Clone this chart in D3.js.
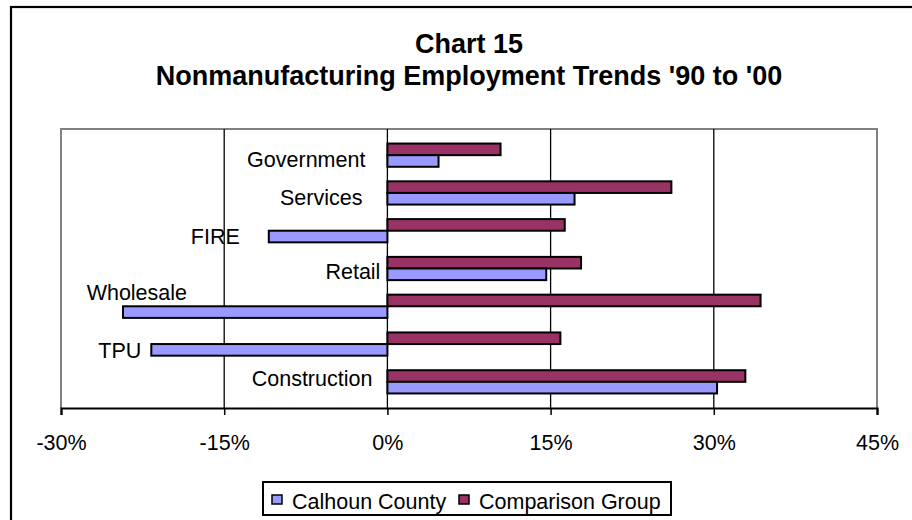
<!DOCTYPE html>
<html>
<head>
<meta charset="utf-8">
<script src="https://cdnjs.cloudflare.com/ajax/libs/d3/7.8.5/d3.min.js"></script>
<style>
  html, body { margin: 0; padding: 0; background: #fff; }
  svg { display: block; font-family: "Liberation Sans", Arial, sans-serif; }
</style>
</head>
<body>
<svg id="chart" width="912" height="520"></svg>
<script>
// Données (ordre Excel : de bas en haut)
const categories = ['Construction', 'TPU', 'Wholesale', 'Retail', 'FIRE', 'Services', 'Government'];
const calhoun = [30.3, -21.7, -24.3, 14.6, -10.9, 17.2, 4.7];
const comparison = [32.9, 15.9, 34.3, 17.8, 16.3, 26.1, 10.4];
const xTicks = [-30, -15, 0, 15, 30, 45];
const seriesNames = ['Calhoun County', 'Comparison Group'];

// Décalages des libellés (placement Excel)
const labelNudge = {
  Construction: [-5, -3], TPU: [0, 6], Wholesale: [74, -14], Retail: [3, 3],
  FIRE: [-19, 6], Services: [-15, 5], Government: [-12, 4]
};

const colors = { calhoun: '#9999ff', comparison: '#993366' };
const margin = { left: 61, right: 877, top: 129, bottom: 408 };

const svg = d3.select('#chart');

// Cadre extérieur
svg.append('rect')
  .attr('x', 11).attr('y', 7).attr('width', 960).attr('height', 560)
  .attr('fill', 'none').attr('stroke', '#000').attr('stroke-width', 2.2);

// Titre
svg.append('text')
  .attr('x', 469).attr('y', 53)
  .attr('text-anchor', 'middle')
  .style('font-weight', 'bold').style('font-size', '27px')
  .text('Chart 15');
svg.append('text')
  .attr('x', 469).attr('y', 85)
  .attr('text-anchor', 'middle')
  .style('font-weight', 'bold').style('font-size', '27px')
  .text("Nonmanufacturing Employment Trends '90 to '00");

// Échelles
const x = d3.scaleLinear().domain([-30, 45]).range([margin.left, margin.right]);
const y = d3.scaleBand().domain(categories.slice().reverse())
  .range([margin.top, margin.bottom]).padding(0.385);
const sub = d3.scaleBand().domain(['comparison', 'calhoun']).range([0, y.bandwidth()]);

// Bordure de la zone de tracé
svg.append('path')
  .attr('d', `M${margin.left},${margin.bottom}V${margin.top}H${margin.right}V${margin.bottom}`)
  .attr('fill', 'none').attr('stroke', '#808080').attr('stroke-width', 2);

// Quadrillage vertical
svg.append('g')
  .selectAll('line')
  .data(xTicks.slice(1, -1))
  .enter()
  .append('line')
  .attr('x1', d => x(d)).attr('x2', d => x(d))
  .attr('y1', margin.top).attr('y2', margin.bottom)
  .attr('stroke', '#000').attr('stroke-width', 1.3);

// Barres
const rows = categories.map((c, i) => ({ cat: c, calhoun: calhoun[i], comparison: comparison[i] }));
const groups = svg.append('g')
  .selectAll('g')
  .data(rows)
  .enter()
  .append('g')
  .attr('transform', d => `translate(0,${y(d.cat)})`);

['comparison', 'calhoun'].forEach(key => {
  groups.append('rect')
    .attr('x', d => x(Math.min(0, d[key])))
    .attr('y', sub(key))
    .attr('width', d => Math.abs(x(d[key]) - x(0)))
    .attr('height', sub.bandwidth())
    .attr('fill', colors[key])
    .attr('stroke', '#000').attr('stroke-width', 2);
});

// Libellés des catégories
svg.append('g')
  .selectAll('text')
  .data(rows)
  .enter()
  .append('text')
  .attr('x', d => x(Math.min(0, d.calhoun, d.comparison)) - 10 + labelNudge[d.cat][0])
  .attr('y', d => y(d.cat) + y.bandwidth() / 2 + labelNudge[d.cat][1])
  .attr('dy', '0.35em')
  .attr('text-anchor', 'end')
  .style('font-size', '21.5px')
  .text(d => d.cat);

// Axe X
const xAxis = d3.axisBottom(x)
  .tickValues(xTicks)
  .tickSize(7)
  .tickPadding(20)
  .tickFormat(d => d + '%');
const gx = svg.append('g')
  .attr('transform', `translate(0,${margin.bottom})`)
  .call(xAxis);
gx.select('.domain').attr('stroke', '#000').attr('stroke-width', 2.2);
gx.selectAll('.tick line').attr('stroke', '#000').attr('stroke-width', 1.5);
gx.selectAll('.tick text')
  .attr('fill', '#000')
  .style('font-size', '21.5px')
  .style('font-family', '"Liberation Sans", Arial, sans-serif');

// Légende
const legend = svg.append('g');
legend.append('rect')
  .attr('x', 263).attr('y', 482).attr('width', 408).attr('height', 33)
  .attr('fill', '#fff').attr('stroke', '#000').attr('stroke-width', 2);
const legendItems = [
  { name: seriesNames[0], color: colors.calhoun, x: 272 },
  { name: seriesNames[1], color: colors.comparison, x: 459 }
];
const li = legend.selectAll('g.item')
  .data(legendItems)
  .enter()
  .append('g')
  .attr('class', 'item')
  .attr('transform', d => `translate(${d.x},495)`);
li.append('rect')
  .attr('width', 10).attr('height', 9)
  .attr('fill', d => d.color)
  .attr('stroke', '#000').attr('stroke-width', 1.5);
li.append('text')
  .attr('x', 20).attr('y', 6.5)
  .attr('dy', '0.35em')
  .style('font-size', '21.5px')
  .text(d => d.name);
</script>
</body>
</html>
